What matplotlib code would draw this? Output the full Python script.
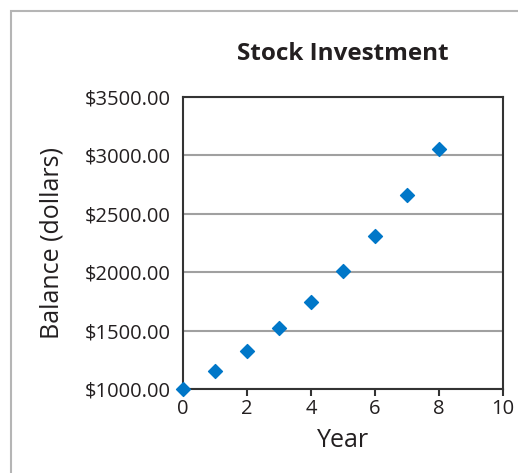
import matplotlib.pyplot as plt
from matplotlib.patches import Rectangle

# Stock investment data
years = [0, 1, 2, 3, 4, 5, 6, 7, 8]
balance = [1000.00, 1150.00, 1322.50, 1520.88, 1749.01, 2011.36, 2313.06, 2660.02, 3059.02]
y_ticks = [1000, 1500, 2000, 2500, 3000, 3500]
x_ticks = [0, 2, 4, 6, 8, 10]

plt.rcParams['font.family'] = ['Open Sans', 'DejaVu Sans']

fig = plt.figure(figsize=(5.18, 4.73), dpi=100)

# light gray frame around the chart
fig.patches.append(Rectangle((11 / 518, -0.1), 1.2, 1 - 11 / 473 + 0.1,
                             transform=fig.transFigure, fill=False,
                             edgecolor='#b5b5b5', linewidth=1.5))

ax = fig.add_axes([183 / 518, 1 - 389 / 473, 320 / 518, 292 / 473])
ax.scatter(years, balance, marker='D', s=50, color='#0077c8', zorder=3, clip_on=False)

ax.set_xlim(0, 10)
ax.set_ylim(1000, 3500)
ax.set_xticks(x_ticks)
ax.set_yticks(y_ticks)
ax.set_yticklabels([f'${v:.2f}' for v in y_ticks])
ax.yaxis.grid(True, color='#a0a0a0', linewidth=1.5)
ax.set_axisbelow(True)
ax.tick_params(axis='y', length=0, pad=9, labelsize=14.5, labelcolor='#231f20')
ax.tick_params(axis='x', length=5, width=1.5, direction='out', pad=2,
               labelsize=14.5, labelcolor='#231f20', color='#333333')
for sp in ax.spines.values():
    sp.set_color('#333333')
    sp.set_linewidth(1.5)

ax.set_title('Stock Investment', fontsize=17.5, fontweight='bold', pad=27, color='#231f20')
ax.set_xlabel('Year', fontsize=18, color='#231f20', labelpad=7)
fig.text(52 / 518, 1 - 243 / 473, 'Balance (dollars)', rotation=90, fontsize=18,
         ha='center', va='center', color='#231f20')

fig.savefig('out.png', dpi=100)
